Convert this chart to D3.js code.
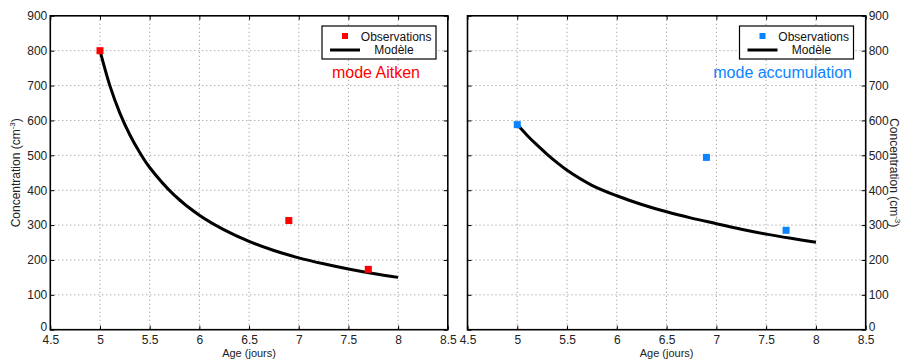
<!DOCTYPE html>
<html><head><meta charset="utf-8">
<script src="https://cdn.jsdelivr.net/npm/d3@7"></script>
<style>body{margin:0;background:#fff}svg{display:block;font-family:Arial,"Liberation Sans",sans-serif}</style>
</head><body><svg id="c" width="904" height="360"></svg>
<script>
// ---- data ----
const xTicks = [4.5,5,5.5,6,6.5,7,7.5,8,8.5];
const xTickLabels = ["4.5","5","5.5","6","6.5","7","7.5","8","8.5"];
const yTicks = [0,100,200,300,400,500,600,700,800,900];
const yTickLabels = ["0","100","200","300","400","500","600","700","800","900"];
const obsAge = [5, 6.9, 7.7];
const obsAitken = [800, 313, 173];
const obsAccum = [588, 494, 285];
const modelAge = [5,5.1,5.2,5.3,5.4,5.5,5.75,6,6.25,6.5,6.75,7,7.25,7.5,7.75,8];
const modelAitken = [800,699,621,559,508,465,385,328,286,253,227,206,189,174,161,150];
const modelAccum = [588,557,529,503,479,457,414,384,359,338,320,304,288,274,262,251];
const modeTitles = ["mode Aitken","mode accumulation"];
const legendLabels = ["Observations","Modèle"];
const xLabel = "Age (jours)";

const svg = d3.select("#c");
const panels = [
  {x0:50.3, x1:447.8, obs:obsAitken, model:modelAitken, color:"#ff0000", title:modeTitles[0], yRight:false,
   leg:{x0:322,x1:436}},
  {x0:467.5, x1:865.7, obs:obsAccum, model:modelAccum, color:"#0a84ff", title:modeTitles[1], yRight:true,
   leg:{x0:739.5,x1:853.5}}
];
const yTop = 15.8, yBot = 329.7;

panels.forEach(p => {
  const x = d3.scaleLinear().domain([4.5,8.5]).range([p.x0,p.x1]);
  const y = d3.scaleLinear().domain([0,900]).range([yBot,yTop]);
  const g = svg.append("g");
  // grid
  g.selectAll(".gx").data(xTicks.slice(1,-1)).enter().append("line")
    .attr("x1",d=>x(d)).attr("x2",d=>x(d)).attr("y1",yTop).attr("y2",yBot)
    .attr("stroke","#8a8a8a").attr("stroke-width",1).attr("stroke-dasharray","1,3");
  g.selectAll(".gy").data(yTicks.slice(1,-1)).enter().append("line")
    .attr("y1",d=>y(d)).attr("y2",d=>y(d)).attr("x1",p.x0).attr("x2",p.x1)
    .attr("stroke","#8a8a8a").attr("stroke-width",1).attr("stroke-dasharray","1,3");
  // axes (ticks inward)
  const ax = g.append("g").attr("transform",`translate(0,${yBot})`)
    .call(d3.axisBottom(x).tickValues(xTicks).tickFormat((d,i)=>xTickLabels[i]).tickSizeInner(-4).tickSizeOuter(0).tickPadding(6));
  const axT = g.append("g").attr("transform",`translate(0,${yTop})`)
    .call(d3.axisTop(x).tickValues(xTicks).tickFormat("").tickSizeInner(-4).tickSizeOuter(0));
  const ayL = g.append("g").attr("transform",`translate(${p.x0},0)`)
    .call(d3.axisLeft(y).tickValues(yTicks).tickFormat((d,i)=>p.yRight?"":yTickLabels[i]).tickSizeInner(-4).tickSizeOuter(0).tickPadding(3));
  const ayR = g.append("g").attr("transform",`translate(${p.x1},0)`)
    .call(d3.axisRight(y).tickValues(yTicks).tickFormat((d,i)=>p.yRight?yTickLabels[i]:"").tickSizeInner(-4).tickSizeOuter(0).tickPadding(3));
  [ax,axT,ayL,ayR].forEach(a=>{
    a.selectAll("text").attr("font-size","12px").attr("fill","#222").attr("font-family","Arial, 'Liberation Sans', sans-serif");
    a.selectAll(".tick line").attr("stroke","#000");
    a.select(".domain").remove();
  });
  // nudge the corner "0" labels up a little so they clear the x tick labels
  [ayL,ayR].forEach(a=>a.selectAll(".tick").filter(d=>d===0).select("text").attr("dy","0.05em"));
  // box
  g.append("rect").attr("x",p.x0).attr("y",yTop).attr("width",p.x1-p.x0).attr("height",yBot-yTop)
    .attr("fill","none").attr("stroke","#000").attr("stroke-width",1.6);
  // model curve
  const line = d3.line().x((d,i)=>x(modelAge[i])).y(d=>y(d)).curve(d3.curveCatmullRom.alpha(0.5));
  g.append("path").datum(p.model).attr("d",line).attr("fill","none").attr("stroke","#000").attr("stroke-width",3);
  // observations
  g.selectAll(".obs").data(p.obs).enter().append("rect")
    .attr("x",(d,i)=>x(obsAge[i])-3.5).attr("y",d=>y(d)-3.5).attr("width",7).attr("height",7).attr("fill",p.color);
  // legend
  const L = p.leg;
  g.append("rect").attr("x",L.x0).attr("y",26).attr("width",L.x1-L.x0).attr("height",33)
    .attr("fill","#fff").attr("stroke","#000").attr("stroke-width",1.2);
  g.append("rect").attr("x",L.x0+20).attr("y",33).attr("width",6).attr("height",6).attr("fill",p.color);
  g.append("line").attr("x1",L.x0+8).attr("x2",L.x0+38).attr("y1",50).attr("y2",50).attr("stroke","#000").attr("stroke-width",3);
  g.append("text").attr("x",L.x1-4.5).attr("y",41).attr("text-anchor","end").attr("font-size","12px").attr("fill","#111").text(legendLabels[0]);
  g.append("text").attr("x",L.x0+72).attr("y",53.5).attr("text-anchor","middle").attr("font-size","12px").attr("fill","#111").text(legendLabels[1]);
  // mode title
  g.append("text").attr("x",p.yRight?852:420).attr("y",77.5).attr("text-anchor","end").attr("font-size","16px")
    .attr("fill",p.color).text(p.title);
  // x label
  g.append("text").attr("x",(p.x0+p.x1)/2).attr("y",357).attr("text-anchor","middle").attr("font-size","11px").attr("fill","#222").text(xLabel);
  // y label
  const yl = g.append("text").attr("text-anchor","middle").attr("font-size","12px").attr("fill","#222");
  if (!p.yRight) yl.attr("transform",`translate(20,${(yTop+yBot)/2}) rotate(-90)`);
  else yl.attr("transform",`translate(890,${(yTop+yBot)/2}) rotate(90)`);
  yl.append("tspan").text("Concentration (cm");
  yl.append("tspan").attr("font-size","8px").attr("dy","-5").text("-3");
  yl.append("tspan").attr("dy","5").text(")");
});
</script></body></html>
